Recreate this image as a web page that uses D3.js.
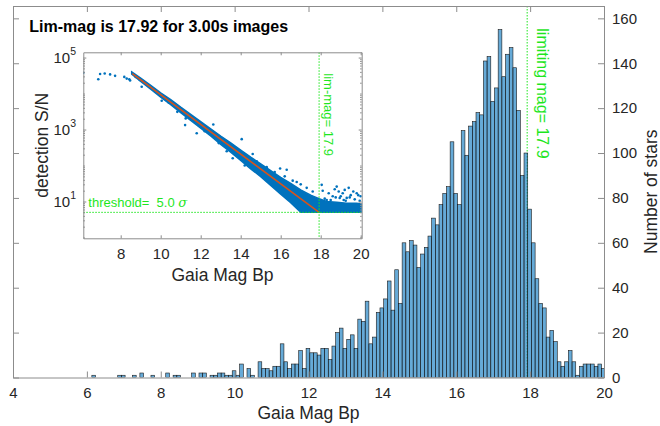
<!DOCTYPE html>
<html>
<head>
<meta charset="utf-8">
<script src="https://cdn.jsdelivr.net/npm/d3@7"></script>
<style>
  body { margin: 0; background: #fff; }
  svg { display: block; font-family: 'Liberation Sans', Arial, sans-serif; }
</style>
</head>
<body>
<svg id="chart" width="660" height="426"></svg>
<script>
// histogram of Gaia Bp magnitudes, 0.1 mag bins starting at histStart
const histStart = 6.135
const binWidth = 0.1
const starCounts = [
  1, 0, 0, 0, 0, 0, 0, 1, 1, 0,
  0, 1, 0, 2, 0, 0, 1, 0, 0, 0,
  2, 0, 1, 1, 0, 0, 0, 2, 0, 2,
  2, 0, 1, 1, 2, 2, 1, 1, 3, 1,
  6, 0, 4, 1, 0, 7, 4, 4, 3, 5,
  5, 15, 7, 4, 6, 6, 12, 4, 13, 11,
  11, 10, 13, 13, 8, 14, 20, 22, 13, 17,
  19, 13, 26, 25, 34, 15, 18, 29, 31, 35,
  43, 30, 48, 33, 60, 56, 61, 59, 49, 55,
  58, 63, 71, 68, 77, 82, 85, 105, 82, 77,
  110, 99, 112, 114, 118, 117, 141, 143, 123, 129,
  155, 134, 144, 147, 138, 119, 90, 100, 75, 60,
  44, 33, 31, 18, 21, 16, 7, 5, 7, 12,
  7, 1, 5, 6, 6, 6, 5, 6, 4
]
const magTicks = [4, 6, 8, 10, 12, 14, 16, 18, 20]
const countTicks = [0, 20, 40, 60, 80, 100, 120, 140, 160]
const limMag = 17.92
const threshold = 5

// inset: detection S/N against magnitude
const insetMagTicks = [8, 10, 12, 14, 16, 18, 20]
const snMajorTicks = [10, 1000, 100000]
const brightMag = [6.13, 6.88, 6.97, 7.2, 7.47, 7.72, 8.18, 8.3, 8.43, 8.47]
const brightSN = [38000, 25000, 35000, 36000, 34000, 31000, 29000, 26000, 25000, 23000]
// dense band of stars around the fit, upper and lower edge
const bandMag = [8.55, 9.0, 9.5, 10.0, 10.5, 11.0, 11.5, 12.0, 12.5, 13.0, 13.5, 14.0, 14.5,
  15.0, 15.5, 16.0, 16.5, 17.0, 17.5, 17.92, 18.3, 18.8, 19.3, 19.8, 20.05]
const bandHigh = [39800, 26900, 17000, 10500, 6760, 4170, 2630, 1660, 1050, 661, 427, 269, 170,
  112, 72, 47, 32, 21, 15, 12, 10, 9.5, 9, 9, 8.5]
const bandLow = [34700, 21900, 13200, 7940, 4900, 2950, 1780, 1100, 661, 389, 234, 138, 81,
  49, 28, 16, 9.3, 5, 5, 5, 5, 5, 5, 5, 5]
const strayMag = [8.75, 8.95, 9.05, 9.25, 9.47, 9.7, 10.05, 10.1, 10.4, 10.83, 11.0, 11.22, 11.25,
  11.8, 12.63, 12.2, 12.9, 13.3, 13.6, 14.05, 14.2, 14.6, 14.8, 15.0, 15.3, 15.6, 15.7, 15.97,
  16.1, 16.2, 16.3, 16.6, 16.8, 17.0, 17.2, 17.3, 17.6, 18.05, 18.1, 18.3, 18.4, 18.6, 18.7,
  18.8, 18.9, 19.0, 19.1, 19.2, 19.3, 19.4, 19.5, 19.63, 19.8, 19.88, 20.0,
  18.2, 18.5, 18.95, 19.15, 19.45, 19.7, 19.95, 18.75, 19.25]
const straySN = [29000, 24000, 15500, 19000, 14800, 12500, 6300, 8100, 5600, 3100, 3300, 1330, 2040,
  790, 1380, 900, 420, 250, 160, 540, 100, 210, 130, 55, 90, 35, 66, 83,
  20, 50, 76, 38, 35, 30, 12, 24, 19, 29, 20, 11, 17, 14, 22,
  26, 19, 14, 17, 21, 12.6, 24, 15, 19, 17, 15, 14,
  12, 11, 12.5, 11, 13, 11.5, 10.5, 13, 10.5]
const fitMag = [8.58, 17.92]
const fitSN = [36000, 5]

const mainBox = { left: 13, right: 604, top: 6, bottom: 377.5 }
const insetBox = { left: 83.3, right: 361.7, top: 52.3, bottom: 238.3 }
const axisGrey = '#8c8c8c'
const textGrey = '#262626'
const limeGreen = '#1ee61e'
const dotBlue = '#0072bd'

const svg = d3.select('#chart')

/**
 * Styles the lines and labels of an axis group in the MATLAB manner.
 *
 * @param {*} g The d3 Selection of the axis g element
 * @param {number} fontSize The tick label size
 */
function styleAxis (g, fontSize) {
  g.select('.domain').attr('stroke', axisGrey)
  g.selectAll('.tick line').attr('stroke', axisGrey)
  g.selectAll('.tick text')
    .attr('fill', textGrey)
    .attr('font-size', fontSize)
    .attr('font-family', null)
}

/**
 * Draws the histogram of the star magnitudes with its four axes.
 */
function drawHistogram () {
  const x = d3.scaleLinear().domain([4, 20]).range([mainBox.left, mainBox.right])
  const y = d3.scaleLinear().domain([0, 165.5]).range([mainBox.bottom, mainBox.top])

  svg.append('clipPath').attr('id', 'main-clip')
    .append('rect')
    .attr('x', mainBox.left).attr('y', mainBox.top)
    .attr('width', mainBox.right - mainBox.left)
    .attr('height', mainBox.bottom - mainBox.top)

  const plot = svg.append('g').attr('clip-path', 'url(#main-clip)')

  plot.append('line')
    .attr('x1', x(limMag)).attr('x2', x(limMag))
    .attr('y1', mainBox.top).attr('y2', mainBox.bottom)
    .attr('stroke', limeGreen)
    .attr('stroke-dasharray', '1.5,1.5')

  plot.selectAll('rect.bar')
    .data(starCounts)
    .join('rect')
    .attr('class', 'bar')
    .attr('x', (d, i) => x(histStart + i * binWidth))
    .attr('width', x(histStart + binWidth) - x(histStart))
    .attr('y', d => y(d))
    .attr('height', d => y(0) - y(d))
    .attr('fill', dotBlue)
    .attr('fill-opacity', 0.6)
    .attr('stroke', '#1a1a1a')
    .attr('stroke-width', 0.6)

  svg.append('g')
    .attr('transform', 'translate(0,' + mainBox.bottom + ')')
    .call(d3.axisBottom(x).tickValues(magTicks).tickSizeInner(-6).tickSizeOuter(0).tickPadding(10))
    .call(g => styleAxis(g, 15))

  svg.append('g')
    .attr('transform', 'translate(0,' + mainBox.top + ')')
    .call(d3.axisTop(x).tickValues(magTicks).tickSizeInner(-6).tickSizeOuter(0).tickFormat(''))
    .call(g => styleAxis(g, 15))

  svg.append('g')
    .attr('transform', 'translate(' + mainBox.left + ',0)')
    .call(d3.axisLeft(y).tickValues(countTicks).tickSizeInner(-6).tickSizeOuter(0).tickFormat(''))
    .call(g => styleAxis(g, 15))

  svg.append('g')
    .attr('transform', 'translate(' + mainBox.right + ',0)')
    .call(d3.axisRight(y).tickValues(countTicks).tickSizeInner(-6).tickSizeOuter(0).tickPadding(8))
    .call(g => styleAxis(g, 15))

  svg.append('text')
    .text('Gaia Mag Bp')
    .attr('x', (mainBox.left + mainBox.right) / 2)
    .attr('y', 419)
    .attr('text-anchor', 'middle')
    .attr('font-size', 17.5)
    .attr('fill', textGrey)

  svg.append('text')
    .text('Number of stars')
    .attr('transform', 'translate(656.5,' + (mainBox.top + mainBox.bottom) / 2 + ') rotate(-90)')
    .attr('text-anchor', 'middle')
    .attr('font-size', 17.5)
    .attr('fill', textGrey)

  svg.append('text')
    .text('limiting mag= 17.9')
    .attr('transform', 'translate(537,28.3) rotate(90)')
    .attr('font-size', 16)
    .attr('fill', limeGreen)

  svg.append('text')
    .text('Lim-mag is 17.92 for 3.00s images')
    .attr('x', 29.3)
    .attr('y', 31.7)
    .attr('font-size', 16)
    .attr('font-weight', 'bold')
    .attr('fill', '#000')
}

/**
 * Draws the inset with detection S/N against magnitude on a log scale.
 */
function drawInset () {
  const xs = d3.scaleLinear().domain([6.13, 20.05]).range([insetBox.left, insetBox.right])
  const ys = d3.scaleLog().domain([0.95, 140000]).range([insetBox.bottom, insetBox.top])

  svg.append('rect')
    .attr('x', insetBox.left).attr('y', insetBox.top)
    .attr('width', insetBox.right - insetBox.left)
    .attr('height', insetBox.bottom - insetBox.top)
    .attr('fill', '#fff')

  svg.append('clipPath').attr('id', 'inset-clip')
    .append('rect')
    .attr('x', insetBox.left).attr('y', insetBox.top)
    .attr('width', insetBox.right - insetBox.left)
    .attr('height', insetBox.bottom - insetBox.top)

  const plot = svg.append('g').attr('clip-path', 'url(#inset-clip)')

  const band = d3.zip(bandMag, bandHigh, bandLow)
  plot.append('path')
    .datum(band)
    .attr('d', d3.area()
      .x(d => xs(d[0]))
      .y0(d => ys(d[2]))
      .y1(d => ys(d[1])))
    .attr('fill', dotBlue)
    .attr('stroke', dotBlue)
    .attr('stroke-width', 1.5)

  const dots = d3.zip(brightMag, brightSN).concat(d3.zip(strayMag, straySN))
  plot.selectAll('circle')
    .data(dots)
    .join('circle')
    .attr('cx', d => xs(d[0]))
    .attr('cy', d => ys(d[1]))
    .attr('r', 1.3)
    .attr('fill', dotBlue)

  plot.append('path')
    .datum(d3.zip(fitMag, fitSN))
    .attr('d', d3.line().x(d => xs(d[0])).y(d => ys(d[1])))
    .attr('fill', 'none')
    .attr('stroke', '#d95319')
    .attr('stroke-width', 1.5)

  plot.append('line')
    .attr('x1', insetBox.left).attr('x2', insetBox.right)
    .attr('y1', ys(threshold)).attr('y2', ys(threshold))
    .attr('stroke', limeGreen)
    .attr('stroke-dasharray', '1.5,1.5')

  plot.append('line')
    .attr('x1', xs(limMag)).attr('x2', xs(limMag))
    .attr('y1', insetBox.top).attr('y2', insetBox.bottom)
    .attr('stroke', limeGreen)
    .attr('stroke-dasharray', '1.5,1.5')

  const minorTicks = ys.ticks().filter(v => !snMajorTicks.includes(v))

  svg.append('g')
    .attr('transform', 'translate(0,' + insetBox.bottom + ')')
    .call(d3.axisBottom(xs).tickValues(insetMagTicks).tickSizeInner(-3).tickSizeOuter(0).tickPadding(10))
    .call(g => styleAxis(g, 15))

  svg.append('g')
    .attr('transform', 'translate(0,' + insetBox.top + ')')
    .call(d3.axisTop(xs).tickValues(insetMagTicks).tickSizeInner(-3).tickSizeOuter(0).tickFormat(''))
    .call(g => styleAxis(g, 15))

  for (const side of ['left', 'right']) {
    const xPos = side === 'left' ? insetBox.left : insetBox.right
    const axis = side === 'left' ? d3.axisLeft : d3.axisRight
    svg.append('g')
      .attr('transform', 'translate(' + xPos + ',0)')
      .call(axis(ys).tickValues(snMajorTicks).tickSizeInner(-3).tickSizeOuter(0).tickFormat(''))
      .call(g => styleAxis(g, 15))
    svg.append('g')
      .attr('transform', 'translate(' + xPos + ',0)')
      .call(axis(ys).tickValues(minorTicks).tickSizeInner(-1.6).tickSizeOuter(0).tickFormat(''))
      .call(g => styleAxis(g, 15))
      .call(g => g.select('.domain').remove())
  }

  const labels = svg.append('g')
    .selectAll('text')
    .data(snMajorTicks)
    .join('text')
    .attr('x', 76)
    .attr('y', d => ys(d) + 5.3)
    .attr('text-anchor', 'end')
    .attr('fill', textGrey)
  labels.append('tspan').text('10').attr('font-size', 15)
  labels.append('tspan').text(d => Math.round(Math.log10(d)))
    .attr('font-size', 10.5)
    .attr('dy', -8)

  svg.append('text')
    .text('Gaia Mag Bp')
    .attr('x', (insetBox.left + insetBox.right) / 2)
    .attr('y', 281)
    .attr('text-anchor', 'middle')
    .attr('font-size', 17.5)
    .attr('fill', textGrey)

  svg.append('text')
    .text('detection S/N')
    .attr('transform', 'translate(48,' + (insetBox.top + insetBox.bottom) / 2 + ') rotate(-90)')
    .attr('text-anchor', 'middle')
    .attr('font-size', 17.5)
    .attr('fill', textGrey)

  const thresholdText = svg.append('text')
    .attr('x', 88.3)
    .attr('y', 207)
    .attr('font-size', 13)
    .attr('fill', limeGreen)
    .style('white-space', 'pre')
  thresholdText.append('tspan').text('threshold=  ' + threshold.toFixed(1) + ' ')
  thresholdText.append('tspan').text('σ').attr('font-style', 'italic').attr('font-family', 'DejaVu Serif, serif')

  svg.append('text')
    .text('lim-mag= ' + limMag.toFixed(1))
    .attr('transform', 'translate(324.4,73.3) rotate(90)')
    .attr('font-size', 13)
    .attr('fill', limeGreen)
}

drawHistogram()
drawInset()
</script>
</body>
</html>
